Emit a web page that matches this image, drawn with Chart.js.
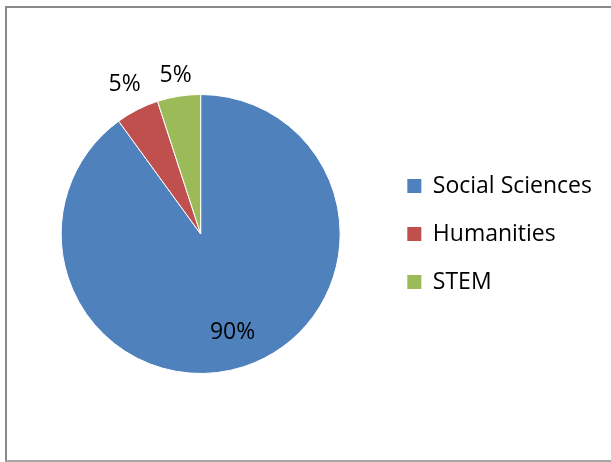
<!DOCTYPE html>
<html lang="en">
<head>
    <meta charset="UTF-8">
    <title>Share by field</title>
    <script src="https://cdn.jsdelivr.net/npm/chart.js"></script>
    <style>
        html, body {
            margin: 0;
            padding: 0;
            background: #fff;
        }

        .frame {
            position: absolute;
            left: 5px;
            top: 6px;
            width: 640px;
            height: 452px;
            border-left: 2px solid #8a8a8a;
            border-top: 2px solid #8a8a8a;
            border-bottom: 2px solid #a6a6a6;
        }

        .chart-box {
            position: absolute;
            left: 0;
            top: 0;
            width: 611px;
            height: 462px;
        }
    </style>
</head>
<body>
    <div class="frame"></div>
    <div class="chart-box">
        <canvas id="pieChart"></canvas>
    </div>
    <script>
        const categories = ['Social Sciences', 'Humanities', 'STEM'];
        const shares = [90, 5, 5];
        const sliceColors = ['#4F81BD', '#C0504D', '#9BBB59'];
        // label distance as a fraction of the radius (inside for the big slice)
        const labelRadius = [0.74, 1.2, 1.15];

        const fontFamily = "'Open Sans', 'Liberation Sans', sans-serif";
        const fontSize = 23;

        // Draw the percentage labels from each arc's own geometry
        const sliceLabels = {
            id: 'sliceLabels',
            afterDatasetsDraw(chart) {
                const ctx = chart.ctx;
                const meta = chart.getDatasetMeta(0);
                const total = shares.reduce((a, b) => a + b, 0);
                ctx.save();
                ctx.font = fontSize + 'px ' + fontFamily;
                ctx.fillStyle = '#000';
                ctx.textAlign = 'center';
                ctx.textBaseline = 'middle';
                meta.data.forEach((arc, i) => {
                    const p = arc.getProps(['x', 'y', 'startAngle', 'endAngle', 'outerRadius']);
                    const mid = (p.startAngle + p.endAngle) / 2;
                    const r = p.outerRadius * labelRadius[i];
                    const pct = Math.round(shares[i] / total * 100) + '%';
                    ctx.fillText(pct, p.x + Math.cos(mid) * r, p.y + Math.sin(mid) * r);
                });
                ctx.restore();
            }
        };

        new Chart(document.getElementById('pieChart'), {
            type: 'pie',
            data: {
                labels: categories,
                datasets: [{
                    data: shares,
                    backgroundColor: sliceColors,
                    borderColor: '#ffffff',
                    borderWidth: 1
                }]
            },
            options: {
                responsive: true,
                maintainAspectRatio: false,
                animation: false,
                layout: {
                    padding: { left: 19, top: 94, bottom: 88, right: 9 }
                },
                plugins: {
                    tooltip: { enabled: false },
                    legend: {
                        position: 'right',
                        align: 'center',
                        labels: {
                            boxWidth: 14,
                            boxHeight: 14,
                            padding: 25,
                            color: '#000',
                            font: { family: fontFamily, size: fontSize },
                            generateLabels(chart) {
                                return categories.map((name, i) => ({
                                    text: name,
                                    fillStyle: sliceColors[i],
                                    strokeStyle: sliceColors[i],
                                    lineWidth: 0,
                                    hidden: false,
                                    index: i
                                }));
                            }
                        }
                    }
                }
            },
            plugins: [sliceLabels]
        });
    </script>
</body>
</html>
